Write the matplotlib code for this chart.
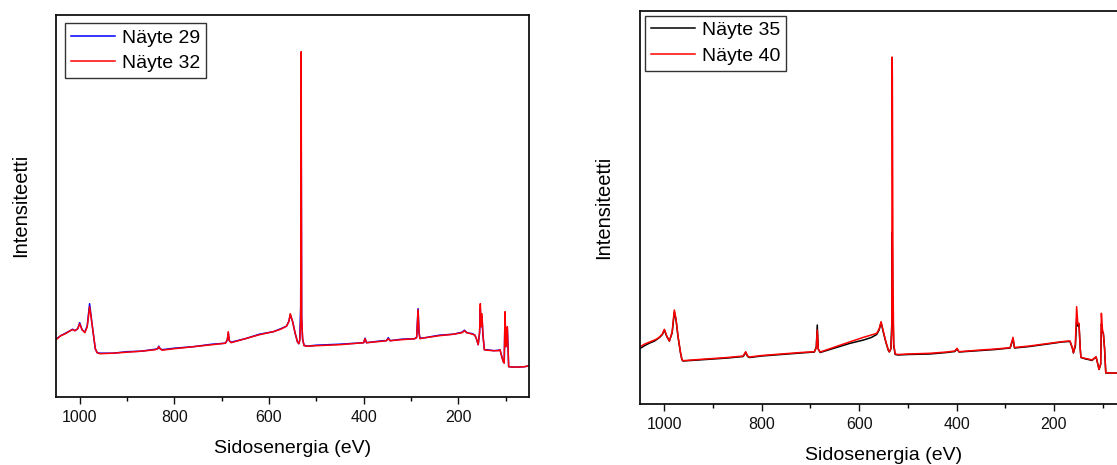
import matplotlib
matplotlib.use("Agg")
import matplotlib.pyplot as plt
from matplotlib.ticker import MultipleLocator

plt.rcParams['font.family'] = ['Liberation Sans', 'DejaVu Sans']

# ---------------- data (binding energy in eV, intensity in arbitrary units) ----------------
ev_left = [1050, 1040, 1030, 1020, 1015, 1010, 1004, 1000, 995, 989, 984, 979, 976, 972,
           967, 963, 957, 930, 900, 870, 840, 835, 833, 830, 826, 800, 760, 720, 692, 688,
           686, 684, 680, 650, 620, 591, 575, 563, 558, 555, 550, 545, 540, 537, 535, 533,
           532, 531, 529, 526, 520, 500, 450, 400, 397, 394, 360, 352, 348, 344, 320, 292,
           288, 285, 283, 281, 270, 240, 210, 192, 187, 182, 170, 165, 161, 158, 155, 153.5,
           152, 150, 148, 145, 140, 125, 115, 112, 108, 105, 103, 101.3, 99.5, 98, 96.4, 95,
           93.6, 80, 60, 50]

naete32 = [57, 61, 63, 66, 67, 66, 68, 73, 67, 64, 70, 90, 80, 66,
           48, 44, 43, 43.5, 44.5, 45.5, 47, 48, 50, 48, 46.5, 48, 50, 52, 53.5, 57,
           65, 56, 54, 58, 62, 65, 67.5, 70.5, 75, 83, 75, 64, 55, 53, 56, 75,
           345, 80, 58, 51, 50.5, 51, 52, 54, 58, 54, 55.5, 56, 58, 56, 57, 58,
           59, 87, 64, 58, 59, 61, 62.5, 64, 66, 64, 62.5, 61.5, 57, 52, 65, 93,
           70, 83, 62, 47, 46.5, 46, 46, 47, 40, 35, 33.5, 85, 50, 60, 70, 50,
           30, 29.5, 30, 31]

naete29 = [57.5, 61, 63.5, 66, 67.5, 66, 68, 74, 67, 64.5, 71, 93, 81, 66,
           48, 44, 43.5, 43.5, 45, 45.5, 47.5, 48, 50.5, 48, 47, 48.5, 50, 52.5, 53.5, 57,
           64, 56, 54.5, 58, 62.5, 65, 68, 70.5, 75.5, 82, 75, 64, 55, 53, 57, 90,
           284, 78, 58, 51.5, 50.5, 51.5, 52.5, 54, 58.5, 54, 56, 56, 59, 56, 57.5, 58,
           59.5, 88, 64, 58.5, 59, 61.5, 62.5, 64.5, 66.5, 64, 63, 61.5, 57, 52, 64, 88,
           70, 80, 62, 47, 47, 46, 46.5, 47, 40, 35, 34, 82, 50, 58, 68, 50,
           30, 29.5, 30, 31]

ev_right = [1050, 1040, 1030, 1020, 1015.6, 1010, 1004, 1000, 995, 989.7, 984, 979.5, 976,
            972, 967, 964, 962, 930, 900, 870, 838, 833, 829, 825, 800, 760, 720, 692, 688,
            686, 684, 680, 650, 620, 591, 575, 564, 559, 555, 550, 545, 540, 538, 535, 533,
            532.2, 531.8, 530.5, 529, 526, 520, 500, 455, 420, 403.5, 399, 395, 350, 320,
            290, 284, 281, 250, 220, 184, 170, 167, 162, 160, 156, 153.4, 151, 148.6, 146,
            144.6, 135, 129.5, 122, 113.5, 110, 107.4, 104, 102.6, 100.5, 98.5, 96, 93.6,
            80, 60, 50]

naete40 = [57.3, 60, 62, 64, 65, 67, 70, 74.7, 68, 63, 72, 94, 85,
           68, 52, 44.7, 43.3, 44.5, 45.5, 46.5, 48, 52.3, 48, 47, 48.5, 50, 51.5, 52.3, 56,
           74, 55, 52, 57, 62, 66.7, 69, 70.7, 75, 82.3, 72, 62, 54, 52.3, 55, 70,
           347, 325, 120, 60, 50, 49.5, 50, 50.7, 52, 53, 55.7, 52.3, 54, 55,
           56.3, 66.7, 56.5, 58, 60, 62.3, 63, 63, 56, 51.3, 60, 97.3, 80, 80.7, 55,
           46.7, 45.5, 45, 44, 47.3, 40, 34.7, 40, 90.7, 75, 70, 55, 31.3,
           31, 31, 31]

naete35 = [55.5, 58.5, 61, 63, 64.5, 66.5, 69.5, 74, 67.5, 63, 71, 92, 84,
           67.5, 51.5, 44.5, 43, 44, 45, 46, 47.5, 51.5, 47.5, 46.5, 48, 49.5, 51, 52, 57,
           79, 55, 51.5, 56, 60.5, 64, 66.5, 69.5, 74, 81.5, 71, 61.5, 53.5, 52, 55, 80,
           172, 150, 90, 58, 49.5, 49, 49.5, 50, 51.5, 52.5, 55, 52, 53.5, 54.5,
           56, 65, 56, 57.5, 59.5, 62, 62.5, 62.5, 55.5, 51, 58, 85, 78, 80, 55,
           46.5, 45, 44.5, 43.5, 47, 40, 34.5, 40, 80, 72, 70.7, 55, 31,
           31, 31, 31]

x_limits = (1050, 50)

# ---------------- figure ----------------
W, H = 1117, 465
fig = plt.figure(figsize=(W / 100, H / 100), dpi=100)
ax1 = fig.add_axes([56 / W, (H - 396.7) / H, 473.3 / W, 382 / H])
ax2 = fig.add_axes([640 / W, (H - 404) / H, 487 / W, 393 / H])

ax1.plot(ev_left, naete29, color='#0000ff', lw=1.1, label='Näyte 29')
ax1.plot(ev_left, naete32, color='#ff0000', lw=1.1, label='Näyte 32')
ax1.set_ylim(0, 382)

ax2.plot(ev_right, naete35, color='#000000', lw=1.1, label='Näyte 35')
ax2.plot(ev_right, naete40, color='#ff0000', lw=1.1, label='Näyte 40')
ax2.set_ylim(0, 393)

for ax, lab_x, pad in ((ax1, -0.055, 0.45), (ax2, -0.056, 0.25)):
    ax.set_xlim(*x_limits)
    ax.xaxis.set_major_locator(MultipleLocator(200))
    ax.xaxis.set_minor_locator(MultipleLocator(100))
    ax.tick_params(axis='x', which='major', direction='out', length=5, width=1,
                   labelsize=11.5, pad=4.5, colors='#111111')
    ax.tick_params(axis='x', which='minor', direction='out', length=3, width=1)
    ax.set_yticks([])
    for s in ax.spines.values():
        s.set_linewidth(1.3)
        s.set_color('#111111')
    ax.set_xlabel('Sidosenergia (eV)', fontsize=14, labelpad=11)
    ax.set_ylabel('Intensiteetti', fontsize=14.5)
    ax.yaxis.set_label_coords(lab_x, 0.5)
    leg = ax.legend(loc='upper left', fontsize=14, frameon=True, fancybox=False,
                    edgecolor='#333333', framealpha=1, borderpad=0.3,
                    labelspacing=0.4, handlelength=2.3, handletextpad=0.35,
                    borderaxespad=pad)
    leg.get_frame().set_linewidth(1.0)

fig.savefig('out.png', dpi=100)
